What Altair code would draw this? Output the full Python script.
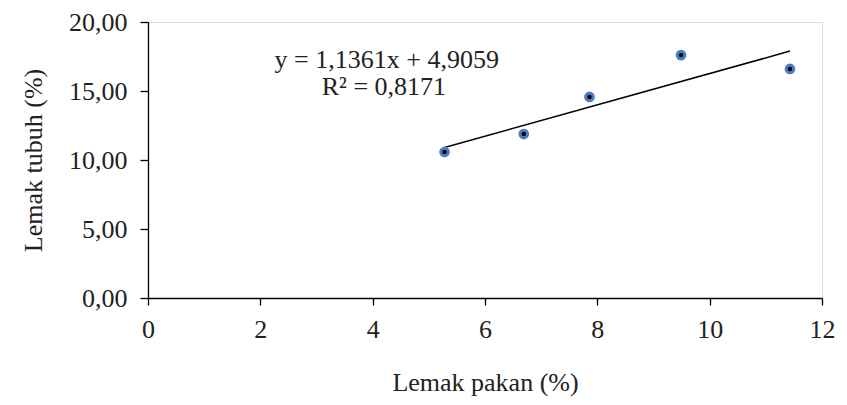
import altair as alt
import pandas as pd

# Data
lemak_pakan = [5.28, 6.69, 7.86, 9.49, 11.43]
lemak_tubuh = [10.58, 11.88, 14.57, 17.60, 16.60]

slope = 1.1361
intercept = 4.9059
eq_lines = ["y = 1,1361x + 4,9059", "R² = 0,8171"]
eq_x = [4.25, 4.2]
eq_y = [17.25, 15.3]

pts = pd.DataFrame({"x": lemak_pakan, "y": lemak_tubuh})
xmin, xmax = min(lemak_pakan), max(lemak_pakan)
trend = pd.DataFrame({"x": [xmin, xmax],
                      "y": [slope * xmin + intercept, slope * xmax + intercept]})
ann = pd.DataFrame({"t": eq_lines, "x": eq_x, "y": eq_y})

FONT = "Liberation Serif"
FS = 26

xs = alt.Scale(domain=[0, 12], nice=False, zero=False)
ys = alt.Scale(domain=[0, 20], nice=False)

xaxis = alt.Axis(values=[0, 2, 4, 6, 8, 10, 12], format="d", grid=False, domain=True,
                 domainColor="black", domainWidth=1.3, tickColor="black",
                 tickSize=7, tickWidth=1.3, labelFont=FONT, labelFontSize=FS,
                 labelColor="#222", labelPadding=11, labelFlush=False,
                 title="Lemak pakan (%)",
                 titleFont=FONT, titleFontSize=FS, titleFontWeight="normal",
                 titleColor="#222", titlePadding=27)
yaxis = alt.Axis(values=[0, 5, 10, 15, 20], grid=False, domain=True,
                 domainColor="black", domainWidth=1.3, tickColor="black",
                 tickSize=8, tickWidth=1.3, labelFont=FONT, labelFontSize=FS,
                 labelColor="#222", labelPadding=13, labelFlush=False,
                 labelExpr="replace(format(datum.value, '.2f'), '.', ',')",
                 title="Lemak tubuh (%)", titleFont=FONT, titleFontSize=FS,
                 titleFontWeight="normal", titleColor="#222", titlePadding=22)

line = alt.Chart(trend).mark_line(color="black", strokeWidth=1.5).encode(
    x=alt.X("x:Q", scale=xs, axis=xaxis),
    y=alt.Y("y:Q", scale=ys, axis=yaxis),
)
outer = alt.Chart(pts).mark_circle(color="#4a7ec4", opacity=1, size=115).encode(
    x=alt.X("x:Q", scale=xs), y=alt.Y("y:Q", scale=ys))
inner = alt.Chart(pts).mark_circle(color="black", opacity=1, size=20).encode(
    x=alt.X("x:Q", scale=xs), y=alt.Y("y:Q", scale=ys))
text = alt.Chart(ann).mark_text(font=FONT, fontSize=FS, color="#222",
                                align="center", baseline="middle").encode(
    x=alt.X("x:Q", scale=xs), y=alt.Y("y:Q", scale=ys), text="t:N")

chart = alt.layer(line, outer, inner, text).properties(
    width=674, height=276,
    autosize=alt.AutoSizeParams(type="none"),
    padding={"left": 140, "top": 14, "right": 17, "bottom": 99},
).configure_view(stroke=None).configure(background="white")

chart.save("out.html", embed_options={"renderer": "svg", "actions": False})
